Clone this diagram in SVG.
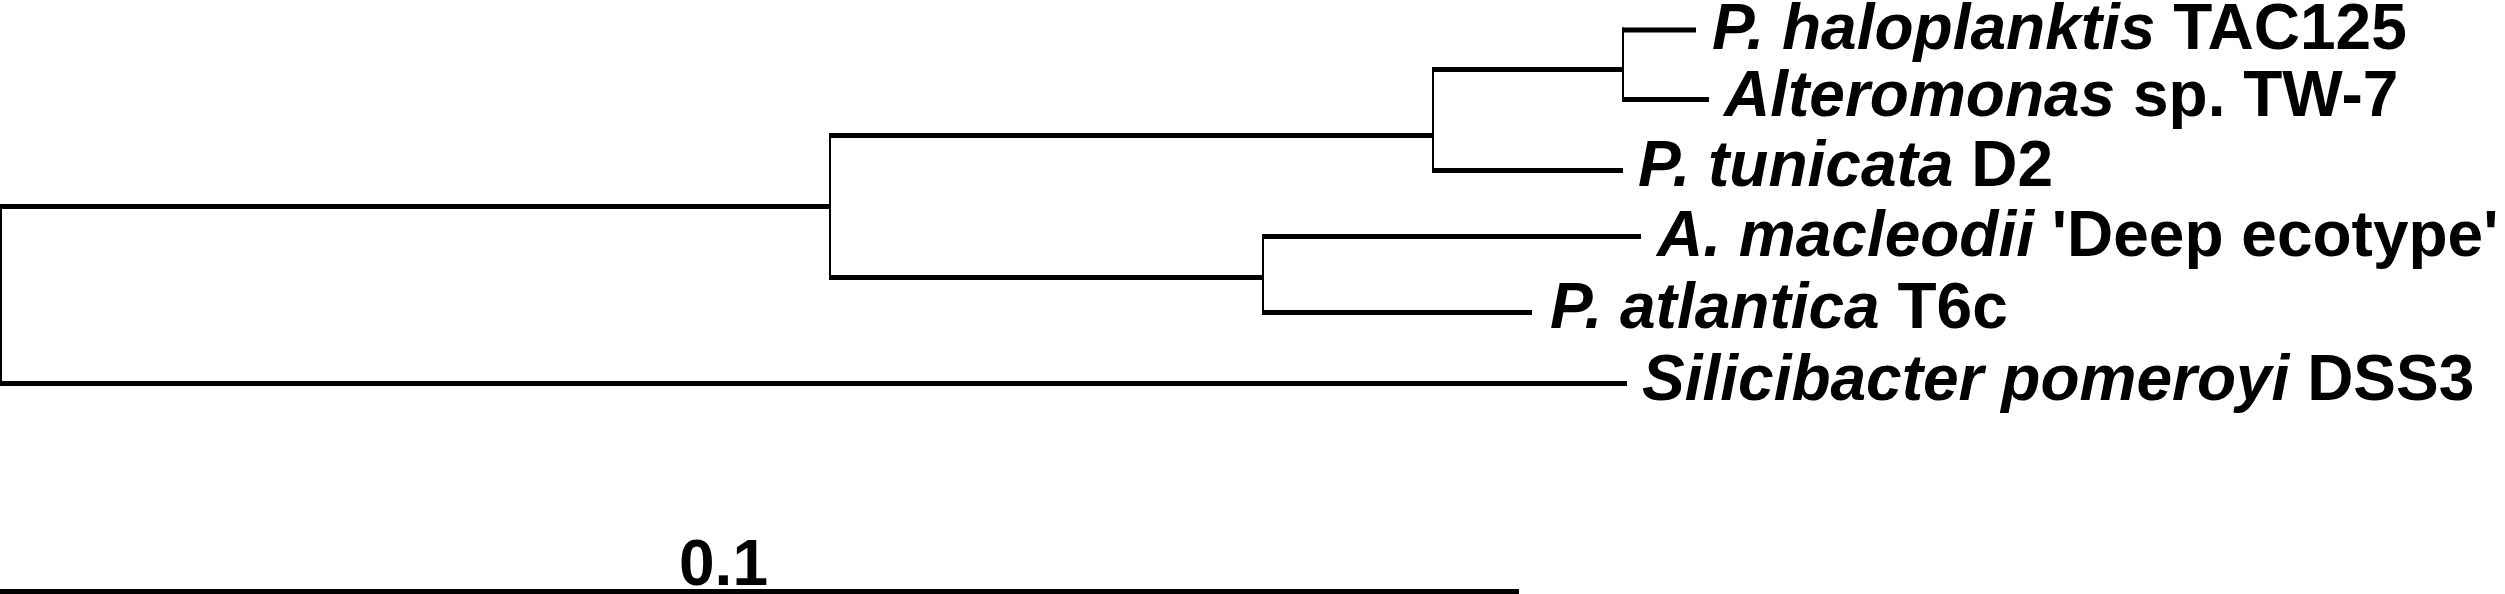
<svg xmlns="http://www.w3.org/2000/svg" width="2505" height="594" viewBox="0 0 2505 594">
  <style>
    .h { stroke: #000; stroke-width: 5; fill: none; stroke-linecap: butt; }
    .v { stroke: #000; stroke-width: 2; fill: none; }
    .lbl { font-family: "Liberation Sans", Arial, sans-serif; font-weight: bold; font-size: 64px; fill: #000; }
    .it { font-style: italic; }
  </style>
  <rect width="2505" height="594" fill="#fff"/>
  <g id="connectors">
    <line class="v" x1="1" y1="204" x2="1" y2="386"/>
    <line class="h" x1="0" y1="206.5" x2="831" y2="206.5"/>
    <line class="h" x1="0" y1="383.5" x2="1627" y2="383.5"/>
    <line class="v" x1="830" y1="133" x2="830" y2="280"/>
    <line class="h" x1="829" y1="135.5" x2="1434" y2="135.5"/>
    <line class="h" x1="829" y1="277.5" x2="1264" y2="277.5"/>
    <line class="v" x1="1433" y1="67" x2="1433" y2="173"/>
    <line class="h" x1="1432" y1="69.5" x2="1624" y2="69.5"/>
    <line class="h" x1="1432" y1="170.5" x2="1623" y2="170.5"/>
    <line class="v" x1="1623" y1="27.5" x2="1623" y2="102"/>
    <line class="h" x1="1622" y1="30" x2="1696" y2="30"/>
    <line class="h" x1="1622" y1="99.5" x2="1709" y2="99.5"/>
    <line class="v" x1="1263" y1="234" x2="1263" y2="315"/>
    <line class="h" x1="1262" y1="236.5" x2="1641" y2="236.5"/>
    <line class="h" x1="1262" y1="312.5" x2="1532" y2="312.5"/>
  </g>
  <g id="leaf-haloplanktis">
    <text class="lbl" x="1712" y="49"><tspan class="it">P. haloplanktis</tspan> TAC125</text>
  </g>
  <g id="leaf-alteromonas">
    <text class="lbl" x="1724" y="116"><tspan class="it">Alteromonas</tspan> sp. TW-7</text>
  </g>
  <g id="leaf-tunicata">
    <text class="lbl" x="1638" y="186"><tspan class="it">P. tunicata</tspan> D2</text>
  </g>
  <g id="leaf-macleodii">
    <text class="lbl" x="1657" y="256"><tspan class="it">A. macleodii</tspan> 'Deep ecotype'</text>
  </g>
  <g id="leaf-atlantica">
    <text class="lbl" x="1550" y="328"><tspan class="it">P. atlantica</tspan> T6c</text>
  </g>
  <g id="leaf-silicibacter">
    <text class="lbl" x="1642" y="400"><tspan class="it">Silicibacter pomeroyi</tspan> DSS3</text>
  </g>
  <g id="scale-bar">
    <line class="h" x1="0" y1="591.5" x2="1519" y2="591.5"/>
    <text class="lbl" x="679" y="585">0.1</text>
  </g>
</svg>
